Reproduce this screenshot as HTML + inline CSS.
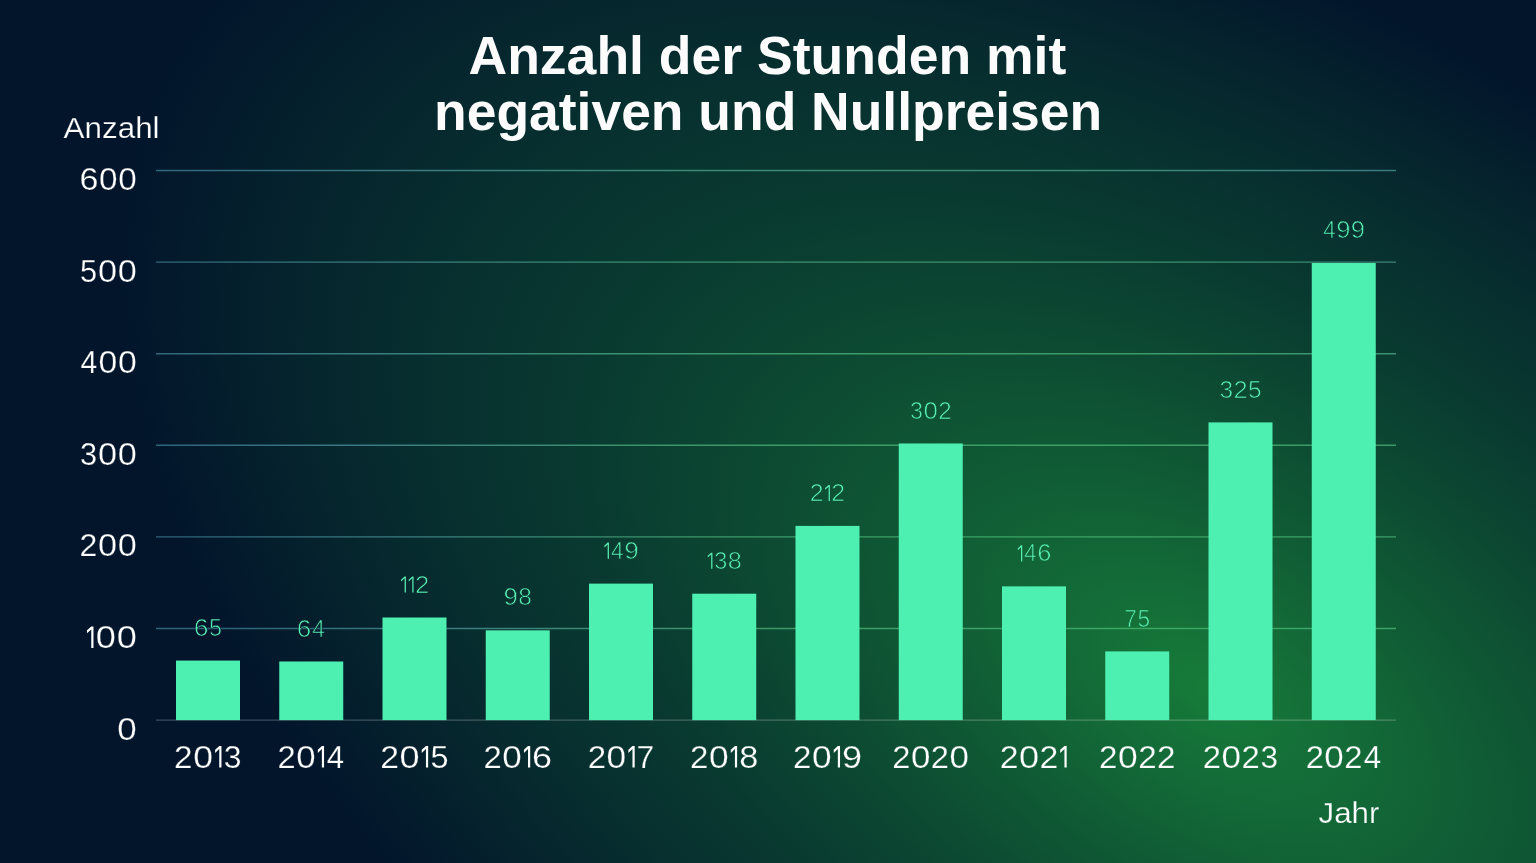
<!DOCTYPE html>
<html lang="de"><head><meta charset="utf-8"><title>Anzahl der Stunden mit negativen und Nullpreisen</title>
<style>html,body{margin:0;padding:0;background:#02152b;overflow:hidden}svg{display:block}text{font-family:"Liberation Sans",sans-serif}</style></head><body>
<svg width="1536" height="863" viewBox="0 0 1536 863">
<defs>
<radialGradient id="bg" gradientUnits="userSpaceOnUse" cx="0" cy="0" r="1" gradientTransform="translate(1209.3 689.4) rotate(32.13) scale(1219.9 679.4)">
<stop offset="0.0" stop-color="#167b39"/>
<stop offset="0.1429" stop-color="#136937"/>
<stop offset="0.2857" stop-color="#0f5834"/>
<stop offset="0.4286" stop-color="#0c4832"/>
<stop offset="0.5714" stop-color="#093a30"/>
<stop offset="0.7143" stop-color="#072f2f"/>
<stop offset="0.8571" stop-color="#05222d"/>
<stop offset="1.0" stop-color="#02152b"/>
</radialGradient>
<radialGradient id="ln" gradientUnits="userSpaceOnUse" cx="0" cy="0" r="1" gradientTransform="translate(1209.3 689.4) rotate(32.13) scale(1219.9 679.4)">
<stop offset="0" stop-color="#3aaa64"/>
<stop offset="0.45" stop-color="#3c9868"/>
<stop offset="0.78" stop-color="#397b7f"/>
<stop offset="1" stop-color="#2e6378"/>
</radialGradient>
<filter id="aa" filterUnits="userSpaceOnUse" x="0" y="0" width="1536" height="863" color-interpolation-filters="sRGB"><feOffset dx="0" dy="0"/></filter>
</defs>
<rect width="1536" height="863" fill="#02152b"/>
<rect width="1536" height="863" fill="url(#bg)"/>
<g filter="url(#aa)" fill="#fcfcfc" font-weight="700" font-size="53.2" text-anchor="middle">
<text x="767.4" y="74.4" textLength="597.8" lengthAdjust="spacingAndGlyphs">Anzahl der Stunden mit</text>
<text x="768.1" y="130.1" textLength="668" lengthAdjust="spacingAndGlyphs">negativen und Nullpreisen</text>
</g>
<g stroke="url(#ln)" stroke-width="1.4">
<path d="M156.0 628.50H1396.0"/>
<path d="M156.0 536.90H1396.0"/>
<path d="M156.0 445.30H1396.0"/>
<path d="M156.0 353.70H1396.0"/>
<path d="M156.0 262.10H1396.0"/>
<path d="M156.0 170.50H1396.0"/>
</g>
<path d="M156.0 720.1H1396.0" stroke="#ffffff" stroke-opacity="0.24" stroke-width="1.1"/>
<g fill="#4ef0b1">
<rect x="176.00" y="660.56" width="64.0" height="59.54"/>
<rect x="279.25" y="661.48" width="64.0" height="58.62"/>
<rect x="382.50" y="617.51" width="64.0" height="102.59"/>
<rect x="485.75" y="630.33" width="64.0" height="89.77"/>
<rect x="589.00" y="583.62" width="64.0" height="136.48"/>
<rect x="692.25" y="593.69" width="64.0" height="126.41"/>
<rect x="795.50" y="525.91" width="64.0" height="194.19"/>
<rect x="898.75" y="443.47" width="64.0" height="276.63"/>
<rect x="1002.00" y="586.36" width="64.0" height="133.74"/>
<rect x="1105.25" y="651.40" width="64.0" height="68.70"/>
<rect x="1208.50" y="422.40" width="64.0" height="297.70"/>
<rect x="1311.75" y="263.02" width="64.0" height="457.08"/>
</g>
<g filter="url(#aa)" fill="#58efb3" font-size="23.05" stroke="url(#bg)" stroke-width="0.68">
<text y="635.66"><tspan x="193.65" textLength="14.81" lengthAdjust="spacingAndGlyphs">6</tspan><tspan x="208.97" textLength="13.01" lengthAdjust="spacingAndGlyphs">5</tspan></text>
<text y="636.58"><tspan x="296.87" textLength="14.53" lengthAdjust="spacingAndGlyphs">6</tspan><tspan x="312.31" textLength="12.66" lengthAdjust="spacingAndGlyphs">4</tspan></text>
<text y="592.61"><tspan x="415.03" textLength="14.26" lengthAdjust="spacingAndGlyphs">2</tspan></text>
<text y="605.43"><tspan x="503.54" textLength="14.38" lengthAdjust="spacingAndGlyphs">9</tspan><tspan x="518.18" textLength="13.64" lengthAdjust="spacingAndGlyphs">8</tspan></text>
<text y="558.72"><tspan x="610.97" textLength="12.68" lengthAdjust="spacingAndGlyphs">4</tspan><tspan x="624.34" textLength="14.55" lengthAdjust="spacingAndGlyphs">9</tspan></text>
<text y="568.79"><tspan x="714.16" textLength="13.08" lengthAdjust="spacingAndGlyphs">3</tspan><tspan x="727.74" textLength="14.11" lengthAdjust="spacingAndGlyphs">8</tspan></text>
<text y="501.01"><tspan x="809.85" textLength="13.85" lengthAdjust="spacingAndGlyphs">2</tspan><tspan x="831.31" textLength="13.85" lengthAdjust="spacingAndGlyphs">2</tspan></text>
<text y="418.57"><tspan x="910.07" textLength="12.92" lengthAdjust="spacingAndGlyphs">3</tspan><tspan x="923.56" textLength="14.38" lengthAdjust="spacingAndGlyphs">0</tspan><tspan x="938.32" textLength="13.45" lengthAdjust="spacingAndGlyphs">2</tspan></text>
<text y="561.46"><tspan x="1024.24" textLength="12.34" lengthAdjust="spacingAndGlyphs">4</tspan><tspan x="1037.15" textLength="14.17" lengthAdjust="spacingAndGlyphs">6</tspan></text>
<text y="626.50"><tspan x="1124.23" textLength="12.67" lengthAdjust="spacingAndGlyphs">7</tspan><tspan x="1137.40" textLength="12.66" lengthAdjust="spacingAndGlyphs">5</tspan></text>
<text y="397.50"><tspan x="1219.42" textLength="13.61" lengthAdjust="spacingAndGlyphs">3</tspan><tspan x="1233.42" textLength="14.17" lengthAdjust="spacingAndGlyphs">2</tspan><tspan x="1248.07" textLength="13.61" lengthAdjust="spacingAndGlyphs">5</tspan></text>
<text y="238.12"><tspan x="1323.24" textLength="12.43" lengthAdjust="spacingAndGlyphs">4</tspan><tspan x="1336.34" textLength="14.26" lengthAdjust="spacingAndGlyphs">9</tspan><tspan x="1350.71" textLength="14.26" lengthAdjust="spacingAndGlyphs">9</tspan></text>
</g>
<path fill="#58efb3" d="M405.89 576.51H404.64L401.00 579.66V581.41L404.64 578.27V592.61H405.89ZM413.55 576.51H412.30L408.66 579.66V581.41L412.30 578.27V592.61H413.55ZM608.92 542.62H607.67L604.35 545.77V547.52L607.67 544.38V558.72H608.92ZM712.42 552.69H711.17L707.75 555.84V557.59L711.17 554.45V568.79H712.42ZM829.88 484.91H828.63L825.12 488.06V489.81L828.63 486.67V501.01H829.88ZM1022.24 545.36H1020.99L1017.80 548.51V550.26L1020.99 547.13V561.46H1022.24Z"/>
<g filter="url(#aa)" fill="#ffffff" font-size="31.3" stroke="url(#bg)" stroke-width="0.25">
<text y="767.5"><tspan x="174.13" textLength="18.50" lengthAdjust="spacingAndGlyphs">2</tspan><tspan x="193.15" textLength="19.77" lengthAdjust="spacingAndGlyphs">0</tspan><tspan x="223.83" textLength="17.77" lengthAdjust="spacingAndGlyphs">3</tspan></text>
<text y="767.5"><tspan x="277.61" textLength="18.15" lengthAdjust="spacingAndGlyphs">2</tspan><tspan x="296.27" textLength="19.40" lengthAdjust="spacingAndGlyphs">0</tspan><tspan x="326.86" textLength="17.30" lengthAdjust="spacingAndGlyphs">4</tspan></text>
<text y="767.5"><tspan x="380.15" textLength="18.76" lengthAdjust="spacingAndGlyphs">2</tspan><tspan x="399.44" textLength="20.05" lengthAdjust="spacingAndGlyphs">0</tspan><tspan x="430.49" textLength="18.02" lengthAdjust="spacingAndGlyphs">5</tspan></text>
<text y="767.5"><tspan x="483.55" textLength="18.24" lengthAdjust="spacingAndGlyphs">2</tspan><tspan x="502.30" textLength="19.49" lengthAdjust="spacingAndGlyphs">0</tspan><tspan x="531.93" textLength="19.95" lengthAdjust="spacingAndGlyphs">6</tspan></text>
<text y="767.5"><tspan x="587.69" textLength="18.36" lengthAdjust="spacingAndGlyphs">2</tspan><tspan x="606.57" textLength="19.62" lengthAdjust="spacingAndGlyphs">0</tspan><tspan x="636.59" textLength="17.65" lengthAdjust="spacingAndGlyphs">7</tspan></text>
<text y="767.5"><tspan x="690.09" textLength="18.38" lengthAdjust="spacingAndGlyphs">2</tspan><tspan x="708.99" textLength="19.65" lengthAdjust="spacingAndGlyphs">0</tspan><tspan x="739.19" textLength="19.05" lengthAdjust="spacingAndGlyphs">8</tspan></text>
<text y="767.5"><tspan x="793.09" textLength="18.35" lengthAdjust="spacingAndGlyphs">2</tspan><tspan x="811.96" textLength="19.61" lengthAdjust="spacingAndGlyphs">0</tspan><tspan x="841.91" textLength="20.05" lengthAdjust="spacingAndGlyphs">9</tspan></text>
<text y="767.5"><tspan x="892.26" textLength="18.17" lengthAdjust="spacingAndGlyphs">2</tspan><tspan x="910.94" textLength="19.42" lengthAdjust="spacingAndGlyphs">0</tspan><tspan x="930.87" textLength="18.17" lengthAdjust="spacingAndGlyphs">2</tspan><tspan x="949.55" textLength="19.42" lengthAdjust="spacingAndGlyphs">0</tspan></text>
<text y="767.5"><tspan x="999.65" textLength="18.76" lengthAdjust="spacingAndGlyphs">2</tspan><tspan x="1018.94" textLength="20.05" lengthAdjust="spacingAndGlyphs">0</tspan><tspan x="1039.52" textLength="18.76" lengthAdjust="spacingAndGlyphs">2</tspan></text>
<text y="767.5"><tspan x="1099.08" textLength="18.45" lengthAdjust="spacingAndGlyphs">2</tspan><tspan x="1118.05" textLength="19.72" lengthAdjust="spacingAndGlyphs">0</tspan><tspan x="1138.29" textLength="18.45" lengthAdjust="spacingAndGlyphs">2</tspan><tspan x="1156.97" textLength="18.45" lengthAdjust="spacingAndGlyphs">2</tspan></text>
<text y="767.5"><tspan x="1202.75" textLength="18.24" lengthAdjust="spacingAndGlyphs">2</tspan><tspan x="1221.51" textLength="19.50" lengthAdjust="spacingAndGlyphs">0</tspan><tspan x="1241.53" textLength="18.24" lengthAdjust="spacingAndGlyphs">2</tspan><tspan x="1260.45" textLength="17.53" lengthAdjust="spacingAndGlyphs">3</tspan></text>
<text y="767.5"><tspan x="1305.65" textLength="18.22" lengthAdjust="spacingAndGlyphs">2</tspan><tspan x="1324.38" textLength="19.47" lengthAdjust="spacingAndGlyphs">0</tspan><tspan x="1344.37" textLength="18.22" lengthAdjust="spacingAndGlyphs">2</tspan><tspan x="1363.75" textLength="17.36" lengthAdjust="spacingAndGlyphs">4</tspan></text>
<text y="739.55"><tspan x="117.34" textLength="19.43" lengthAdjust="spacingAndGlyphs">0</tspan></text>
<text y="647.95"><tspan x="95.70" textLength="20.15" lengthAdjust="spacingAndGlyphs">0</tspan><tspan x="116.67" textLength="20.15" lengthAdjust="spacingAndGlyphs">0</tspan></text>
<text y="556.35"><tspan x="79.59" textLength="17.80" lengthAdjust="spacingAndGlyphs">2</tspan><tspan x="97.90" textLength="19.03" lengthAdjust="spacingAndGlyphs">0</tspan><tspan x="117.70" textLength="19.03" lengthAdjust="spacingAndGlyphs">0</tspan></text>
<text y="464.75"><tspan x="80.03" textLength="17.11" lengthAdjust="spacingAndGlyphs">3</tspan><tspan x="97.90" textLength="19.03" lengthAdjust="spacingAndGlyphs">0</tspan><tspan x="117.70" textLength="19.03" lengthAdjust="spacingAndGlyphs">0</tspan></text>
<text y="373.15"><tspan x="80.51" textLength="16.72" lengthAdjust="spacingAndGlyphs">4</tspan><tspan x="98.43" textLength="18.76" lengthAdjust="spacingAndGlyphs">0</tspan><tspan x="117.96" textLength="18.76" lengthAdjust="spacingAndGlyphs">0</tspan></text>
<text y="281.55"><tspan x="79.97" textLength="17.11" lengthAdjust="spacingAndGlyphs">5</tspan><tspan x="97.90" textLength="19.03" lengthAdjust="spacingAndGlyphs">0</tspan><tspan x="117.70" textLength="19.03" lengthAdjust="spacingAndGlyphs">0</tspan></text>
<text y="189.95"><tspan x="79.47" textLength="18.93" lengthAdjust="spacingAndGlyphs">6</tspan><tspan x="98.96" textLength="18.49" lengthAdjust="spacingAndGlyphs">0</tspan><tspan x="118.20" textLength="18.49" lengthAdjust="spacingAndGlyphs">0</tspan></text>
<text x="63.6" y="137.5" font-size="29" textLength="96" lengthAdjust="spacingAndGlyphs">Anzahl</text>
<text x="1318.5" y="823" font-size="29.5" textLength="61" lengthAdjust="spacingAndGlyphs">Jahr</text>
</g>
<path fill="#ffffff" d="M221.46 746.00H219.26L215.12 749.84V752.91L219.26 749.10V767.50H221.46ZM324.06 746.00H321.86L317.83 749.84V752.91L321.86 749.10V767.50H324.06ZM428.15 746.00H425.95L421.72 749.84V752.91L425.95 749.10V767.50H428.15ZM530.21 746.00H528.01L523.96 749.84V752.91L528.01 749.10V767.50H530.21ZM634.67 746.00H632.47L628.37 749.84V752.91L632.47 749.10V767.50H634.67ZM737.12 746.00H734.92L730.81 749.84V752.91L734.92 749.10V767.50H737.12ZM840.04 746.00H837.84L833.75 749.84V752.91L837.84 749.10V767.50H840.04ZM1066.65 746.00H1064.45L1060.21 749.84V752.91L1064.45 749.10V767.50H1066.65ZM93.47 626.45H91.27L87.00 630.29V633.37L91.27 629.55V647.95H93.47Z"/>
</svg></body></html>
